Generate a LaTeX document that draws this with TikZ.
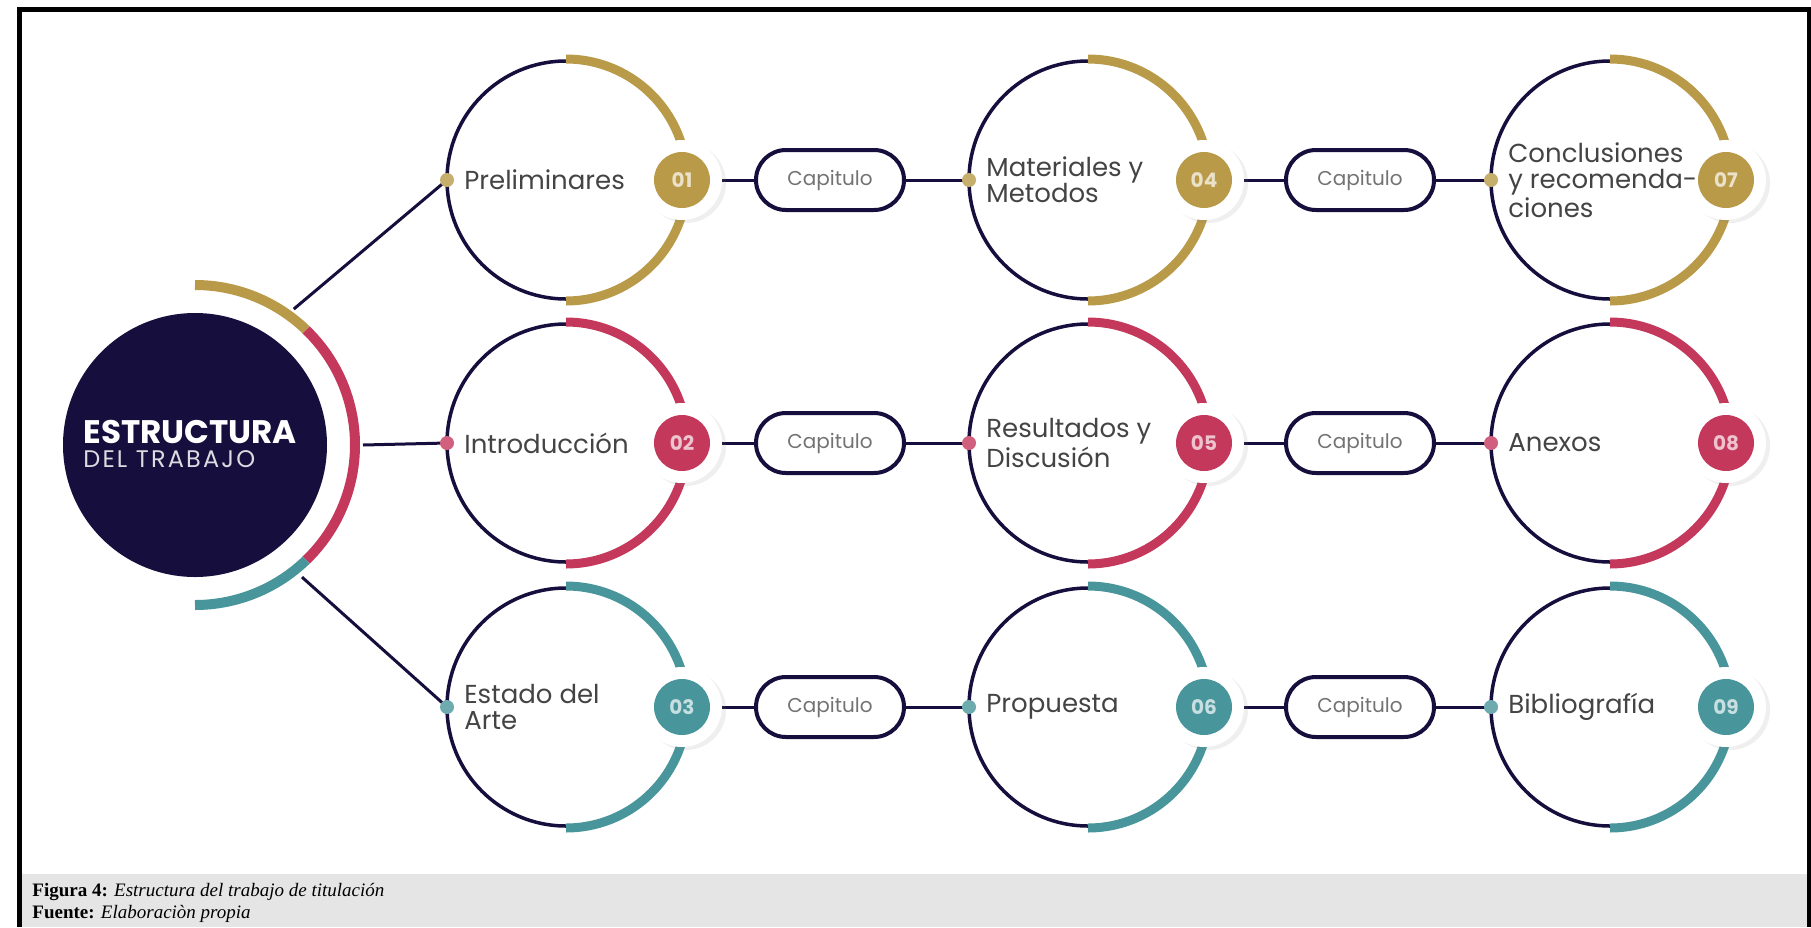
\documentclass[tikz,border=0pt]{standalone}
\usepackage{fontspec}
\setmainfont{Poppins}
\newfontfamily\capfont{Liberation Serif}
\usetikzlibrary{shadows}
\definecolor{navy}{RGB}{22,14,60}
\definecolor{cgold}{RGB}{184,154,72}
\definecolor{cred}{RGB}{196,56,92}
\definecolor{cteal}{RGB}{72,150,155}
\definecolor{txt}{RGB}{68,68,68}
\pgfdeclarelayer{back}
\pgfdeclarelayer{bg}
\pgfsetlayers{back,bg,main}
\newcommand\chapunit[6]{%
  \coordinate (#1) at (#2,#3);
  \draw[ring] (#1) circle[radius=59.5pt];
  \draw[#4,arcband] (#1) ++(90:60.5pt) arc[start angle=90,end angle=18,radius=60.5pt];
  \draw[#4,arcband] (#1) ++(-18:60.5pt) arc[start angle=-18,end angle=-90,radius=60.5pt];
  \path[halo] (#1) ++(58pt,0pt) circle[radius=20pt];
  \path (#1) ++(58pt,0pt) node[numdisc,fill=#4,text=#4!30!white] (#1n) {#5};
  \path (#1) ++(-59.5pt,0pt) node[dotn,fill=#4!80!white] (#1d) {};
  \path (#1) ++(-51pt,0pt) node[lbl] (#1l) {#6};
}
\begin{document}
\begin{tikzpicture}[x=0.5pt,y=-0.5pt,
  ring/.style={draw=navy,line width=1.75pt},
  arcband/.style={line width=4.5pt},
  halo/.style={fill=white,drop shadow={shadow xshift=2pt,shadow yshift=-1.5pt,opacity=0.12}},
  numdisc/.style={circle,minimum size=28pt,inner sep=0pt,font=\fontsize{10}{10}\selectfont\bfseries},
  lbl/.style={anchor=west,align=left,inner sep=0pt,text=txt,font=\fontsize{13}{13}\selectfont},
  capbox/.style={draw=navy,fill=white,line width=2pt,rounded corners=15pt,minimum width=74pt,minimum height=30pt,inner sep=0pt,text=txt!75,font=\fontsize{10}{10}\selectfont},
  link/.style={draw=navy,line width=1.5pt},
  dotn/.style={circle,inner sep=0pt,minimum size=7pt}
]
\useasboundingbox (0,0) rectangle (1811,927);
\begin{pgfonlayer}{back}
\fill[white] (0,0) rectangle (1811,927);
\fill[gray!20] (22,874) rectangle (1807,927);
\draw[line width=2.5pt,black] (19.5,927) -- (19.5,9.5) -- (1809.5,9.5) -- (1809.5,927);
\end{pgfonlayer}

% central circle
\coordinate (B) at (195,445);
\fill[navy] (B) circle[radius=66pt];
\draw[cgold,line width=5pt] (B) ++(90:80pt) arc[start angle=90,end angle=46,radius=80pt];
\draw[cred,line width=5pt] (B) ++(46:80pt) arc[start angle=46,end angle=-46,radius=80pt];
\draw[cteal,line width=5pt] (B) ++(-46:80pt) arc[start angle=-46,end angle=-90,radius=80pt];
\node[anchor=base west,inner sep=0pt,text=white,font=\fontsize{16.3}{16.3}\selectfont\bfseries] (t1) at (83,443) {ESTRUCTURA};
\node[anchor=base west,inner sep=0pt,text=white!85!navy,font=\fontsize{12}{12}\selectfont\addfontfeatures{LetterSpace=9}] (t2) at (83,467) {DEL TRABAJO};
\path (B) ++(54:84pt) coordinate (s1);
\path (B) ++(0:84pt) coordinate (s2);
\path (B) ++(-51:85pt) coordinate (s3);

% units
\chapunit{p1}{566}{180}{cgold}{01}{Preliminares}
\chapunit{p4}{1088}{180}{cgold}{04}{Materiales y\\Metodos}
\chapunit{p7}{1610}{180}{cgold}{07}{Conclusiones\\y recomenda-\\ciones}
\chapunit{p2}{566}{443}{cred}{02}{Introducción}
\chapunit{p5}{1088}{443}{cred}{05}{Resultados y\\Discusión}
\chapunit{p8}{1610}{443}{cred}{08}{Anexos}
\chapunit{p3}{566}{707}{cteal}{03}{Estado del\\Arte}
\chapunit{p6}{1088}{707}{cteal}{06}{Propuesta}
\chapunit{p9}{1610}{707}{cteal}{09}{Bibliografía}

% chapter boxes
\node[capbox] (k1) at (830,180) {Capitulo};
\node[capbox] (k2) at (1360,180) {Capitulo};
\node[capbox] (k3) at (830,443) {Capitulo};
\node[capbox] (k4) at (1360,443) {Capitulo};
\node[capbox] (k5) at (830,707) {Capitulo};
\node[capbox] (k6) at (1360,707) {Capitulo};

\begin{pgfonlayer}{bg}
\draw[link] (s1) -- (p1d.center);
\draw[link] (s2) -- (p2d.center);
\draw[link] (s3) -- (p3d.center);
\draw[link] (p1n) -- (k1); \draw[link] (k1) -- (p4d.center);
\draw[link] (p4n) -- (k2); \draw[link] (k2) -- (p7d.center);
\draw[link] (p2n) -- (k3); \draw[link] (k3) -- (p5d.center);
\draw[link] (p5n) -- (k4); \draw[link] (k4) -- (p8d.center);
\draw[link] (p3n) -- (k5); \draw[link] (k5) -- (p6d.center);
\draw[link] (p6n) -- (k6); \draw[link] (k6) -- (p9d.center);
\end{pgfonlayer}

% caption
\node[anchor=base west,inner sep=0pt,font=\capfont\fontsize{9.5}{11}\selectfont] (cap1) at (32,896) {\textbf{Figura 4:} \textit{Estructura del trabajo de titulación}};
\node[anchor=base west,inner sep=0pt,font=\capfont\fontsize{9.5}{11}\selectfont] (cap2) at (32,918) {\textbf{Fuente:} \textit{Elaboraciòn propia}};
\end{tikzpicture}
\end{document}
